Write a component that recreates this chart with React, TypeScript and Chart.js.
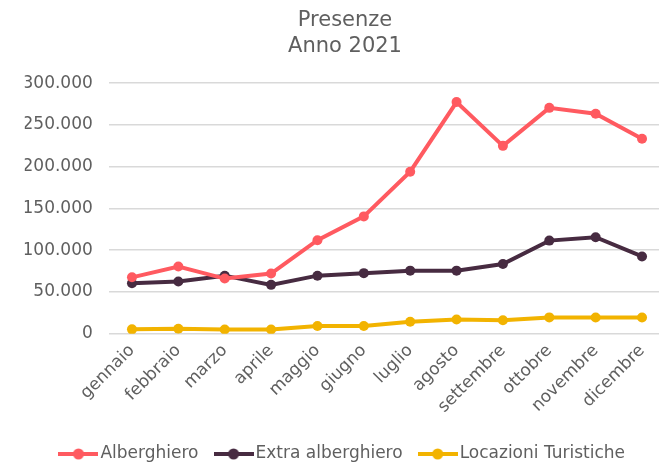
import React, { useEffect, useRef } from "react";
import { Chart, registerables } from "chart.js";

Chart.register(...registerables);

const months = ["gennaio", "febbraio", "marzo", "aprile", "maggio", "giugno", "luglio", "agosto", "settembre", "ottobre", "novembre", "dicembre"];
const alberghiero = [67500, 80500, 66000, 72000, 112000, 140500, 194000, 277500, 225000, 270500, 263500, 233500];
const extraAlberghiero = [60500, 62500, 69500, 58500, 69500, 72500, 75500, 75500, 83500, 111500, 115500, 92500];
const locazioniTuristiche = [5200, 5800, 5000, 5000, 9200, 9300, 14200, 17000, 16000, 19500, 19300, 19300];
const seriesNames = ["Alberghiero", "Extra alberghiero", "Locazioni Turistiche"];
const colors = ["#FF5A60", "#472B41", "#F2B300"];
const titleLines = ["Presenze", "Anno 2021"];

const FONT = "'DejaVu Sans', sans-serif";
const TEXT = "#5f5f5f";

function fmt(v: number) {
  return String(v).replace(/\B(?=(\d{3})+(?!\d))/g, ".");
}

function legendIcon(color: string) {
  const c = document.createElement("canvas");
  c.width = 40;
  c.height = 12;
  const ctx = c.getContext("2d")!;
  ctx.strokeStyle = color;
  ctx.lineWidth = 4;
  ctx.beginPath();
  ctx.moveTo(0, 6);
  ctx.lineTo(40, 6);
  ctx.stroke();
  ctx.fillStyle = color;
  ctx.beginPath();
  ctx.arc(20, 6, 5.5, 0, Math.PI * 2);
  ctx.fill();
  return c;
}

export default function App() {
  const ref = useRef<HTMLCanvasElement>(null);
  useEffect(() => {
    const icons = colors.map(legendIcon);
    const data = [alberghiero, extraAlberghiero, locazioniTuristiche];
    const chart = new Chart(ref.current!, {
      type: "line",
      data: {
        labels: months,
        datasets: data.map((d, i) => ({
          label: seriesNames[i],
          data: d,
          borderColor: colors[i],
          backgroundColor: colors[i],
          pointBackgroundColor: colors[i],
          pointBorderColor: colors[i],
          borderWidth: 4,
          pointRadius: 5,
          pointBorderWidth: 0,
          tension: 0,
        })),
      },
      options: {
        responsive: false,
        animation: false,
        layout: { padding: { left: 24.8, right: 24.8, top: 0, bottom: -7.5 } },
        plugins: {
          title: {
            display: true,
            text: titleLines,
            color: TEXT,
            font: { family: FONT, size: 21, weight: "normal", lineHeight: 1.22 },
            padding: { top: 8, bottom: 24 },
          },
          legend: {
            position: "bottom",
            labels: {
              usePointStyle: true,
              pointStyleWidth: 27,
              padding: 21.5,
              color: TEXT,
              font: { family: FONT, size: 17 },
              generateLabels: (c: any) =>
                (Chart.defaults.plugins.legend.labels.generateLabels as any)(c).map((l: any, i: number) => ({
                  ...l,
                  pointStyle: icons[i],
                })),
            },
          },
          tooltip: { enabled: false },
        },
        scales: {
          x: {
            offset: true,
            grid: { display: false, drawTicks: false },
            border: { display: false },
            ticks: {
              autoSkip: false,
              maxRotation: 45,
              minRotation: 45,
              padding: 7,
              color: TEXT,
              font: { family: FONT, size: 17 },
            },
          },
          y: {
            min: 0,
            max: 300000,
            afterFit: (s: any) => {
              s.width = 84;
            },
            grid: { color: "#D9D9D9", lineWidth: 1.5, drawTicks: false },
            border: { display: false },
            ticks: {
              stepSize: 50000,
              padding: 16,
              color: TEXT,
              font: { family: FONT, size: 17 },
              callback: (v: any) => fmt(Number(v)),
            },
          },
        },
      },
    } as any);
    return () => chart.destroy();
  }, []);
  return (
    <div style={{ position: "fixed", left: 0, top: 0, width: 659, height: 465, overflow: "hidden", background: "#fff" }}>
      <canvas ref={ref} width={690} height={465} style={{ display: "block" }} />
    </div>
  );
}
